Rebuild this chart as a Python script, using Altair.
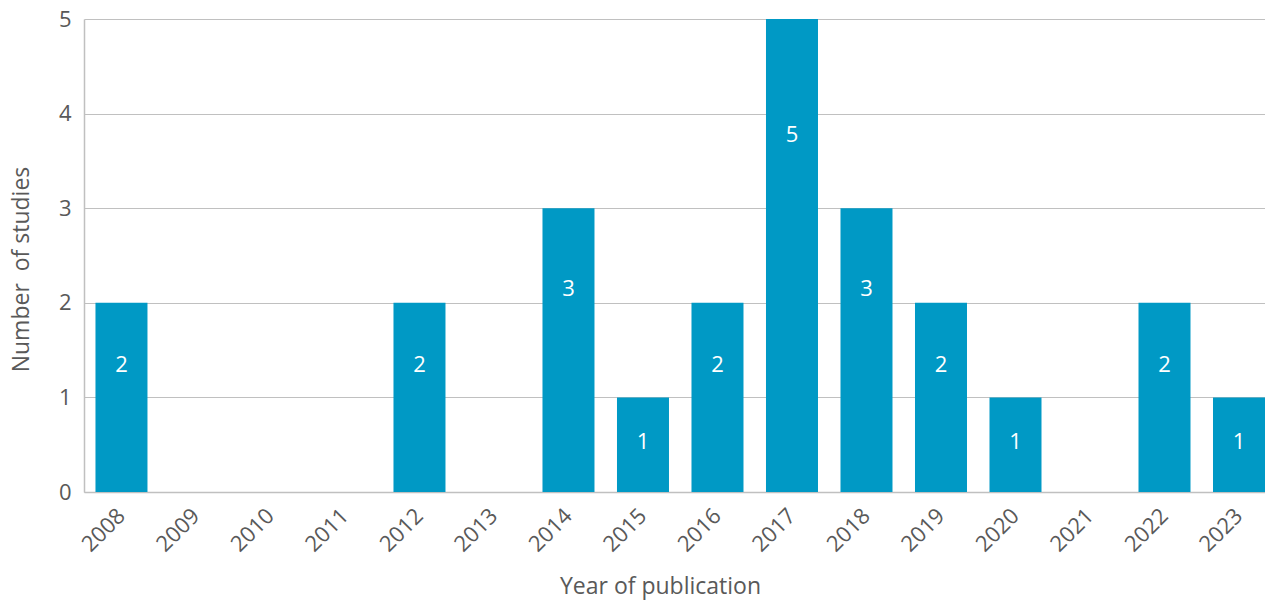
import altair as alt
import pandas as pd

# Number of included studies per publication year
years = [str(y) for y in range(2008, 2024)]
counts = [2, 0, 0, 0, 2, 0, 3, 1, 2, 5, 3, 2, 1, 0, 2, 1]

df = pd.DataFrame({"year": years, "n": counts})

FONT = "Open Sans"
GREY_TEXT = "#595959"
GRID = "#C0C0C0"
BAR = "#0099C5"

x_enc = alt.X(
    "year:N",
    sort=years,
    title="Year of publication",
    scale=alt.Scale(paddingInner=0.302, paddingOuter=0.077, align=1),
    axis=alt.Axis(
        labelAngle=-45,
        labelAlign="right",
        labelBaseline="middle",
        labelFontSize=22,
        labelColor=GREY_TEXT,
        labelFont=FONT,
        labelPadding=20,
        ticks=False,
        domainColor=GRID,
        domainWidth=1.5,
        titleFont=FONT,
        titleFontSize=23,
        titleFontWeight="normal",
        titleColor=GREY_TEXT,
        titleX=576,
        titleY=101,
        titleBaseline="alphabetic",
    ),
)

bars = alt.Chart(df).mark_bar(color=BAR).encode(
    x=x_enc,
    y=alt.Y(
        "n:Q",
        title="Number\u00a0 of studies",
        scale=alt.Scale(domain=[0, 5], nice=False),
        axis=alt.Axis(
            values=[0, 1, 2, 3, 4, 5],
            format="d",
            labelFontSize=22,
            labelColor=GREY_TEXT,
            labelFont=FONT,
            labelPadding=13,
            ticks=False,
            domainColor=GRID,
            domainWidth=1.5,
            gridColor=GRID,
            gridWidth=1.2,
            titleFont=FONT,
            titleFontSize=23,
            titleFontWeight="normal",
            titleColor=GREY_TEXT,
            titlePadding=25,
            titleY=250,
        ),
    ),
)

# Value labels inside the bars, placed on a fraction of the bar height
labels = (
    alt.Chart(df)
    .transform_filter("datum.n > 0")
    .transform_calculate(ly="datum.n * 0.81 - 0.26")
    .mark_text(color="white", fontSize=22, font=FONT, baseline="middle", dy=2)
    .encode(
        x=alt.X("year:N", sort=years),
        y=alt.Y("ly:Q"),
        text=alt.Text("n:Q"),
    )
)

chart = (
    alt.layer(bars, labels)
    .properties(
        width=1181,
        height=473,
        autosize=alt.AutoSizeParams(type="none"),
        padding={"left": 84, "top": 19, "right": 0, "bottom": 109},
        background="white",
    )
    .configure_view(stroke=None)
)

chart.save("out.html", embed_options={"renderer": "svg", "actions": False})
